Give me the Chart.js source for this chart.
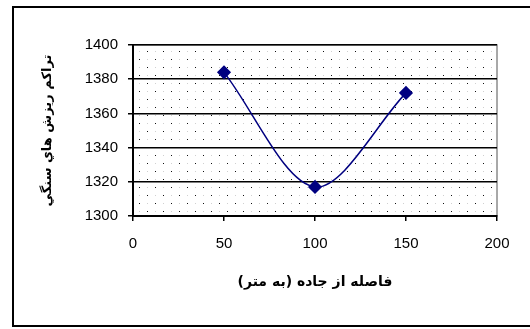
<!DOCTYPE html>
<html>
<head>
<meta charset="utf-8">
<script src="https://cdn.jsdelivr.net/npm/chart.js@4/dist/chart.umd.min.js"></script>
<style>
  html, body { margin: 0; padding: 0; background: #fff; }
</style>
</head>
<body>
<canvas id="myChart" width="530" height="329"></canvas>
<script>
// fasele az jade (m) va meghdar rizesh
const fasele = [50, 100, 150];
const rizesh = [1384, 1317, 1372];
const xTicks = [0, 50, 100, 150, 200];
const yTicks = [1300, 1320, 1340, 1360, 1380, 1400];
const xTitle = 'فاصله از جاده (به متر)';
const yTitle = 'تراكم ريزش هاي سنگي';

// hashur noghte-i baraye zamine
function dotPattern(ctx) {
    const c = document.createElement('canvas');
    c.width = 16; c.height = 16;
    const p = c.getContext('2d');
    p.fillStyle = '#ffffff';
    p.fillRect(0, 0, 16, 16);
    p.fillStyle = '#111';
    p.fillRect(3, 3, 1, 1);
    p.fillRect(11, 11, 1, 1);
    p.fillStyle = '#d0d0d0';
    p.fillRect(11, 3, 1, 1);
    p.fillRect(3, 11, 1, 1);
    return ctx.createPattern(c, 'repeat');
}

const zamine = {
    id: 'zamine',
    beforeDraw(chart) {
        const ctx = chart.ctx;
        const a = chart.chartArea;
        ctx.save();
        ctx.fillStyle = dotPattern(ctx);
        ctx.fillRect(a.left, a.top, a.right - a.left, a.bottom - a.top);
        ctx.strokeStyle = '#8c8c8c';
        ctx.lineWidth = 1.5;
        ctx.strokeRect(a.left, a.top, a.right - a.left, a.bottom - a.top);
        // ghab biruni
        ctx.strokeStyle = '#000';
        ctx.lineWidth = 2;
        ctx.beginPath();
        ctx.moveTo(540, 7);
        ctx.lineTo(13, 7);
        ctx.lineTo(13, 326);
        ctx.lineTo(540, 326);
        ctx.stroke();
        ctx.restore();
    }
};

const ctx = document.getElementById('myChart').getContext('2d');
const myChart = new Chart(ctx, {
    type: 'line',
    data: {
        datasets: [{
            data: fasele.map((x, i) => ({x: x, y: rizesh[i]})),
            borderColor: '#000080',
            backgroundColor: '#000080',
            borderWidth: 1.5,
            tension: 0.32,
            pointStyle: 'rectRot',
            pointRadius: 6,
            pointHoverRadius: 6
        }]
    },
    options: {
        responsive: false,
        animation: false,
        events: [],
        layout: { padding: { left: 40, top: 45, right: 33, bottom: 38 } },
        plugins: { legend: { display: false }, tooltip: { enabled: false } },
        scales: {
            x: {
                type: 'linear',
                min: 0, max: 200,
                afterBuildTicks: s => { s.ticks = xTicks.map(v => ({value: v})); },
                afterFit: s => { s.height = 75; },
                ticks: { color: '#000', padding: 14, callback: v => String(v), font: { family: 'Arial', size: 15 } },
                grid: { drawOnChartArea: false, color: '#000', lineWidth: 1.5, tickLength: 5 },
                border: { color: '#000', width: 2 },
                title: {
                    display: true, text: xTitle, color: '#000',
                    padding: { top: 10, bottom: 0 },
                    font: { family: 'DejaVu Sans', size: 14, weight: 'bold' }
                }
            },
            y: {
                min: 1300, max: 1400,
                afterBuildTicks: s => { s.ticks = yTicks.map(v => ({value: v})); },
                afterFit: s => { s.width = 93; },
                ticks: { color: '#000', padding: 10, callback: v => String(v), font: { family: 'Arial', size: 15 } },
                grid: { color: '#000', lineWidth: 1.5, tickLength: 5 },
                border: { color: '#000', width: 2 },
                title: {
                    display: true, text: yTitle, color: '#000',
                    padding: { top: 0, bottom: 0 },
                    font: { family: 'DejaVu Sans', size: 13, weight: 'bold' }
                }
            }
        }
    },
    plugins: [zamine]
});
</script>
</body>
</html>
